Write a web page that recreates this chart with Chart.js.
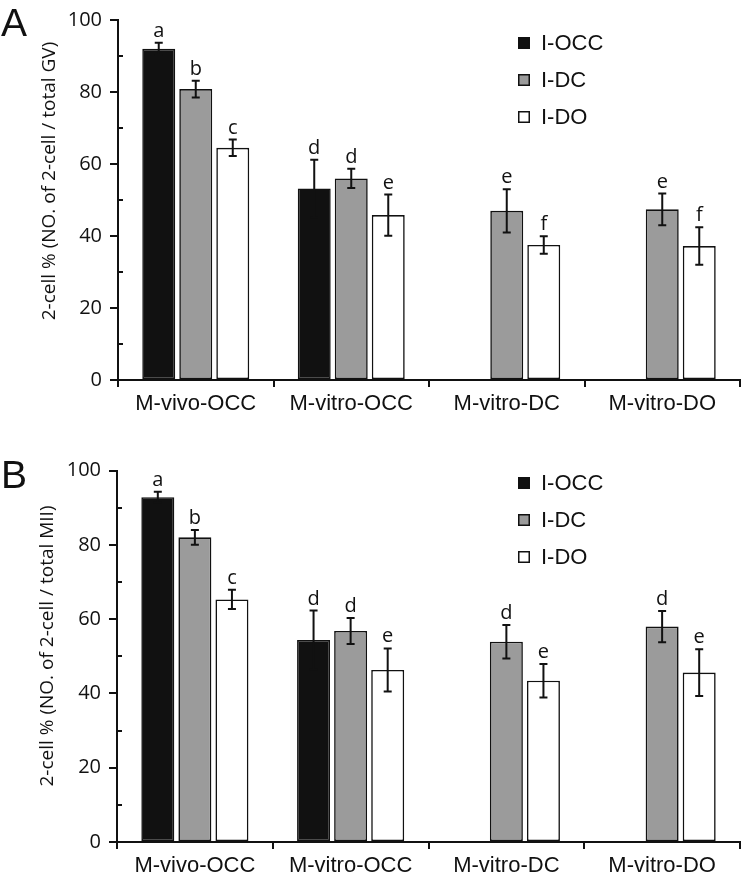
<!DOCTYPE html>
<html>
<head>
<meta charset="utf-8">
<script src="https://cdn.jsdelivr.net/npm/chart.js@4/dist/chart.umd.min.js"></script>
<style>
  html, body { margin: 0; padding: 0; background: #fff; }
  #wrap { position: relative; width: 744px; height: 876px; }
  canvas { position: absolute; left: 0; }
</style>
</head>
<body>
<div id="wrap">
  <canvas id="chartA" width="744" height="438" style="top:0"></canvas>
  <canvas id="chartB" width="744" height="438" style="top:438px"></canvas>
</div>
<script>
// ---------- data ----------
const categories = ['M-vivo-OCC', 'M-vitro-OCC', 'M-vitro-DC', 'M-vitro-DO'];
const seriesNames = ['I-OCC', 'I-DC', 'I-DO'];

// Panel A: 2-cell % (of total GV)
const aOCC = [92.0, 53.2, null, null];
const aDC  = [80.8, 56.0, 47.0, 47.4];
const aDO  = [64.5, 45.8, 37.5, 37.2];
const aOCCerr = [1.7, 8.0, null, null];
const aDCerr  = [2.3, 2.7, 6.0, 4.4];
const aDOerr  = [2.3, 5.7, 2.4, 5.2];
const aOCClet = ['a', 'd', null, null];
const aDClet  = ['b', 'd', 'e', 'e'];
const aDOlet  = ['c', 'e', 'f', 'f'];

// Panel B: 2-cell % (of total MII)
const bOCC = [92.8, 54.4, null, null];
const bDC  = [82.0, 56.8, 53.9, 58.0];
const bDO  = [65.3, 46.3, 43.4, 45.6];
const bOCCerr = [1.5, 7.9, null, null];
const bDCerr  = [2.0, 3.5, 4.5, 4.2];
const bDOerr  = [2.6, 5.8, 4.5, 6.3];
const bOCClet = ['a', 'd', null, null];
const bDClet  = ['b', 'd', 'd', 'd'];
const bDOlet  = ['c', 'e', 'e', 'e'];

const yTicksMajor = [0, 20, 40, 60, 80, 100];

// ---------- styles ----------
const fills = ['#111111', '#9b9b9b', '#ffffff'];

const overlay = {
  id: 'overlay',
  afterDatasetsDraw(chart, args, o) {
    const ctx = chart.ctx, y = chart.scales.y;
    ctx.save();
    ctx.strokeStyle = '#111';
    ctx.lineWidth = 2;
    ctx.fillStyle = '#111';
    ctx.font = '20px "Open Sans"';
    ctx.textAlign = 'center';
    ctx.textBaseline = 'alphabetic';
    chart.data.datasets.forEach((ds, di) => {
      const meta = chart.getDatasetMeta(di);
      ds.data.forEach((v, i) => {
        if (v == null) return;
        const x = meta.data[i].x;
        const e = o.errors[di][i];
        const yt = y.getPixelForValue(v + e), yb = y.getPixelForValue(v - e);
        ctx.beginPath();
        ctx.moveTo(x, yt); ctx.lineTo(x, yb);
        ctx.moveTo(x - 4, yt); ctx.lineTo(x + 4, yt);
        ctx.moveTo(x - 4, yb); ctx.lineTo(x + 4, yb);
        ctx.stroke();
        const L = o.letters[di][i];
        if (L) ctx.fillText(L, x, yt - 6);
      });
    });
    ctx.restore();
  },
  afterDraw(chart, args, o) {
    const ctx = chart.ctx, y = chart.scales.y, ca = chart.chartArea;
    ctx.save();
    // minor ticks (inside)
    ctx.strokeStyle = '#111'; ctx.lineWidth = 2;
    for (let v = 10; v < 100; v += 20) {
      const py = Math.round(y.getPixelForValue(v));
      ctx.beginPath(); ctx.moveTo(ca.left, py); ctx.lineTo(ca.left + 5, py); ctx.stroke();
    }
    // legend
    ctx.font = '22px "Liberation Sans", Arial, sans-serif';
    ctx.textAlign = 'left'; ctx.textBaseline = 'middle';
    chart.data.datasets.forEach((ds, di) => {
      const cy = o.legendY + di * 37;
      ctx.fillStyle = ds.backgroundColor;
      ctx.fillRect(o.legendX, cy - 6, 12, 12);
      ctx.lineWidth = 1.5; ctx.strokeStyle = '#111';
      ctx.strokeRect(o.legendX + 0.75, cy - 5.25, 10.5, 10.5);
      ctx.fillStyle = '#111';
      ctx.fillText(ds.label, o.legendX + 23, cy + 1);
    });
    // y title
    ctx.save();
    ctx.translate(o.titleX, o.titleY);
    ctx.rotate(-Math.PI / 2);
    ctx.font = '19px "Open Sans"';
    ctx.textAlign = 'center'; ctx.textBaseline = 'middle';
    ctx.fillStyle = '#111';
    ctx.fillText(o.title, 0, 0);
    ctx.restore();
    // panel letter
    ctx.font = '39px "Liberation Sans", Arial, sans-serif';
    ctx.textAlign = 'left'; ctx.textBaseline = 'alphabetic';
    ctx.fillStyle = '#111';
    ctx.fillText(o.panel, 1, o.panelY);
    ctx.restore();
  }
};

function makeChart(id, vals, errs, lets, cfg) {
  const datasets = vals.map((d, i) => ({
    label: seriesNames[i],
    data: d,
    backgroundColor: fills[i],
    borderColor: '#111',
    borderWidth: 1.6,
    borderSkipped: false,
    categoryPercentage: 0.714,
    barPercentage: 0.89
  }));
  return new Chart(document.getElementById(id), {
    type: 'bar',
    data: { labels: categories, datasets },
    plugins: [overlay],
    options: {
      responsive: false,
      animation: false,
      devicePixelRatio: 1,
      layout: { padding: { top: cfg.top, right: 4, left: 0, bottom: 0 } },
      plugins: {
        legend: { display: false },
        tooltip: { enabled: false },
        overlay: {
          errors: errs, letters: lets,
          legendX: 518, legendY: cfg.legendY,
          title: cfg.title, titleX: cfg.titleX, titleY: cfg.titleY,
          panel: cfg.panel, panelY: cfg.panelY
        }
      },
      scales: {
        x: {
          afterFit(s) { s.height = cfg.xh; },
          grid: { drawOnChartArea: false, offset: true, tickLength: 7, color: '#111', lineWidth: 2 },
          border: { color: '#111', width: 2 },
          ticks: { color: '#111', font: { family: '"Liberation Sans", Arial, sans-serif', size: 22 }, padding: 4, maxRotation: 0, autoSkip: false }
        },
        y: {
          min: 0, max: 100,
          afterFit(s) { s.width = cfg.left; },
          afterBuildTicks(s) {
            s.ticks = [];
            for (let v = 0; v <= 100; v += 20) s.ticks.push({ value: v });
          },
          grid: { drawOnChartArea: false, tickLength: 8, color: '#111', lineWidth: 2 },
          border: { color: '#111', width: 2 },
          ticks: {
            color: '#111',
            font: { family: '"Open Sans"', size: 20 },
            padding: 8,
            callback: (v) => yTicksMajor.includes(v) ? String(v) : ''
          }
        }
      }
    }
  });
}

makeChart('chartA', [aOCC, aDC, aDO], [aOCCerr, aDCerr, aDOerr], [aOCClet, aDClet, aDOlet], {
  top: 11, xh: 58, left: 118, legendY: 43,
  title: '2-cell % (NO. of 2-cell / total GV)', titleX: 50, titleY: 181,
  panel: 'A', panelY: 36
});
makeChart('chartB', [bOCC, bDC, bDO], [bOCCerr, bDCerr, bDOerr], [bOCClet, bDClet, bDOlet], {
  top: 32.5, xh: 34, left: 117, legendY: 45,
  title: '2-cell % (NO. of 2-cell / total MII)', titleX: 48, titleY: 208,
  panel: 'B', panelY: 50
});
</script>
</body>
</html>
